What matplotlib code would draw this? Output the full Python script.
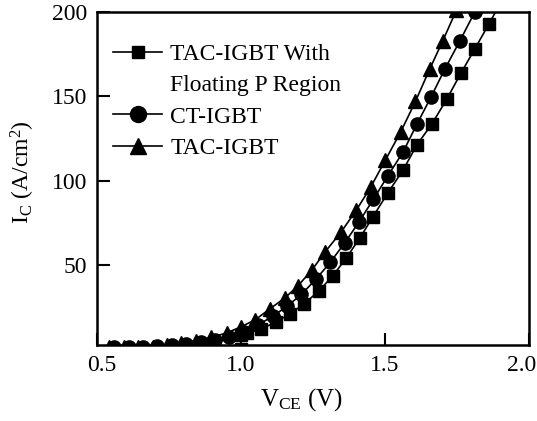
import numpy as np
import matplotlib.pyplot as plt
import matplotlib.transforms as mtransforms
from matplotlib.lines import Line2D

plt.rcParams['font.family'] = ['Liberation Serif', 'DejaVu Serif']
plt.rcParams['mathtext.fontset'] = 'custom'
plt.rcParams['mathtext.rm'] = 'Liberation Serif'
plt.rcParams['mathtext.it'] = 'Liberation Serif:italic'

# TAC-IGBT with floating P region (squares)
v_float = [1.0, 1.0, 1.02, 1.07, 1.12, 1.17, 1.22, 1.27, 1.319, 1.365, 1.413,
           1.458, 1.510, 1.563, 1.611, 1.663, 1.715, 1.764, 1.812, 1.861, 1.91]
i_float = [0, 8.5, 9.5, 12, 16, 21, 27, 34.5, 43.5, 54, 66,
           78.5, 92.7, 106.3, 121.2, 133.6, 148.4, 163.8, 178.1, 192.9, 208]

# CT-IGBT (circles)
v_ct = [0.56, 0.61, 0.66, 0.71, 0.76, 0.81, 0.86, 0.91, 0.96, 1.01, 1.06,
        1.11, 1.16, 1.21, 1.26, 1.31, 1.36, 1.41, 1.46, 1.510, 1.563,
        1.611, 1.660, 1.708, 1.760, 1.812, 1.86]
i_ct = [1.5, 1.5, 1.5, 2, 2.5, 3, 4, 5.5, 7.5, 10.5, 14.5,
        19.5, 25.5, 32.5, 41.5, 51.5, 63, 75.5, 89, 102.8, 117,
        133.5, 149.6, 166.2, 182.8, 200, 216]

# TAC-IGBT (triangles)
v_tac = [0.542, 0.594, 0.642, 0.694, 0.743, 0.792, 0.844, 0.896, 0.951, 1.0,
         1.049, 1.101, 1.153, 1.198, 1.247, 1.292, 1.348, 1.401, 1.450, 1.501,
         1.555, 1.606, 1.655, 1.701, 1.748]
i_tac = [1.5, 1.5, 1.5, 1.5, 2.5, 3.5, 5, 7, 9.7, 13.3,
         17.4, 24, 30.5, 37.6, 47.1, 57.7, 69.6, 82.6, 96, 112,
         129, 147, 166, 183, 201]

x_ticks = [0.5, 1.0, 1.5, 2.0]
y_ticks = [50, 100, 150, 200]

fig = plt.figure(figsize=(5.37, 4.21), dpi=100)
ax = fig.add_axes([0.1806, 0.1805, 0.8044, 0.791])

ax.plot(v_float, i_float, 'k-', marker='s', ms=8.5, lw=1.2)
ax.plot(v_ct, i_ct, 'k-', marker='o', ms=9.5, lw=1.2)
ax.plot(v_tac, i_tac, 'k-', marker='^', ms=9.5, lw=1.2)

ax.set_xlim(0.5, 2.0)
ax.set_ylim(2.5, 200)
ax.set_xticks(x_ticks)
ax.set_yticks(y_ticks)
ax.tick_params(direction='in', length=9, width=1.5, labelsize=17)
ax.tick_params(axis='x', pad=7)
ax.tick_params(axis='y', pad=7)
for s in ax.spines.values():
    s.set_linewidth(1.8)

# squeeze outer x tick labels inside the figure like the original
labs = ax.get_xticklabels()
labs[0].set_transform(labs[0].get_transform() +
                      mtransforms.ScaledTranslation(5 / 100, 0, fig.dpi_scale_trans))
labs[-1].set_transform(labs[-1].get_transform() +
                       mtransforms.ScaledTranslation(-7 / 100, 0, fig.dpi_scale_trans))

ax.set_xlabel(r'V$_{\mathrm{CE}}$ (V)', fontsize=18)
ax.xaxis.set_label_coords(0.4745, -0.125)
ax.set_ylabel(r'I$_{\mathrm{C}}$ (A/cm$^{2}$)', fontsize=17)
ax.yaxis.set_label_coords(-0.14, 0.52)

handles = [
    Line2D([], [], color='k', lw=1.2, marker='s', ms=9),
    Line2D([], [], color='none'),
    Line2D([], [], color='k', lw=1.2, marker='o', ms=11.5),
    Line2D([], [], color='k', lw=1.2, marker='^', ms=12),
]
labels = ['TAC-IGBT With', 'Floating P Region', 'CT-IGBT', 'TAC-IGBT']
ax.legend(handles, labels, loc='upper left', bbox_to_anchor=(0.037, 0.906),
          frameon=False, fontsize=17, handlelength=2.08, handletextpad=0.34,
          labelspacing=0.42, borderpad=0, borderaxespad=0)

fig.savefig('out.png', dpi=100)
